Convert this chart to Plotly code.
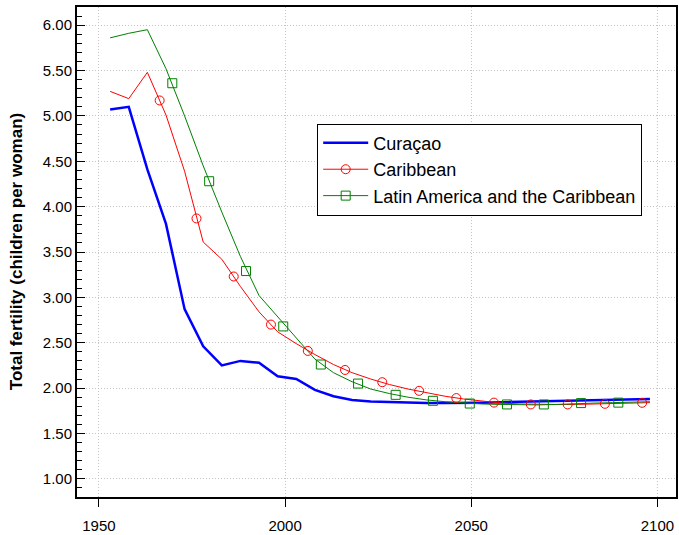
import plotly.graph_objects as go

years = [1953, 1958, 1963, 1968, 1973, 1978, 1983, 1988, 1993, 1998,
         2003, 2008, 2013, 2018, 2023, 2028, 2033, 2038, 2043, 2048,
         2053, 2058, 2063, 2068, 2073, 2078, 2083, 2088, 2093, 2098]

curacao = [5.07, 5.10, 4.41, 3.81, 2.87, 2.46, 2.25, 2.30, 2.28, 2.13,
           2.10, 1.98, 1.91, 1.87, 1.853, 1.845, 1.84, 1.835, 1.835, 1.835,
           1.84, 1.845, 1.85, 1.855, 1.86, 1.865, 1.87, 1.875, 1.878, 1.88]

caribbean = [5.27, 5.19, 5.48, 5.01, 4.39, 3.61, 3.42, 3.12, 2.84, 2.62,
             2.49, 2.37, 2.26, 2.17, 2.10, 2.04, 1.99, 1.95, 1.91, 1.88,
             1.855, 1.835, 1.825, 1.82, 1.82, 1.82, 1.825, 1.83, 1.835, 1.84]

latam = [5.86, 5.91, 5.95, 5.52, 5.00, 4.45, 3.94, 3.45, 3.02, 2.79,
         2.55, 2.32, 2.17, 2.07, 1.99, 1.94, 1.90, 1.87, 1.85, 1.835,
         1.825, 1.82, 1.815, 1.815, 1.82, 1.83, 1.835, 1.84, 1.845, 1.85]

car_marker_years = [1966.3, 1976.2, 1986.2, 1996.2, 2006.1, 2016.1, 2026.1,
                    2036.0, 2046.0, 2056.1, 2066.0, 2075.9, 2085.9, 2095.9]
car_marker_vals = [5.17, 3.87, 3.23, 2.70, 2.41, 2.20, 2.065,
                   1.97, 1.89, 1.84, 1.82, 1.82, 1.827, 1.838]

lac_marker_years = [1969.7, 1979.6, 1989.5, 1999.5, 2009.6, 2019.6, 2029.7,
                    2039.7, 2049.6, 2059.6, 2069.5, 2079.5, 2089.5]
lac_marker_vals = [5.36, 4.28, 3.29, 2.68, 2.26, 2.05, 1.926,
                   1.86, 1.83, 1.82, 1.82, 1.835, 1.84]

names = ["Curaçao", "Caribbean", "Latin America and the Caribbean"]
x_ticks = [1950, 2000, 2050, 2100]

BLUE = "#0000ff"
RED = "#ff0000"
GREEN = "#008000"
GRID = "#c4c4c4"
FONT = "Liberation Sans, Arial, sans-serif"

fig = go.Figure()

# lines
fig.add_trace(go.Scatter(x=years, y=curacao, mode="lines",
                         line=dict(color=BLUE, width=2.5), showlegend=False))
fig.add_trace(go.Scatter(x=years, y=caribbean, mode="lines",
                         line=dict(color=RED, width=1), showlegend=False))
fig.add_trace(go.Scatter(x=years, y=latam, mode="lines",
                         line=dict(color=GREEN, width=1), showlegend=False))
# markers
fig.add_trace(go.Scatter(x=car_marker_years, y=car_marker_vals, mode="markers",
                         marker=dict(symbol="circle-open", size=9, color=RED,
                                     line=dict(width=1, color=RED)),
                         showlegend=False))
fig.add_trace(go.Scatter(x=lac_marker_years, y=lac_marker_vals, mode="markers",
                         marker=dict(symbol="square-open", size=9, color=GREEN,
                                     line=dict(width=1, color=GREEN)),
                         showlegend=False))
# legend entries
fig.add_trace(go.Scatter(x=[None], y=[None], mode="lines", name=names[0],
                         line=dict(color=BLUE, width=2.5)))
fig.add_trace(go.Scatter(x=[None], y=[None], mode="lines+markers", name=names[1],
                         line=dict(color=RED, width=1),
                         marker=dict(symbol="circle-open", size=9, color=RED)))
fig.add_trace(go.Scatter(x=[None], y=[None], mode="lines+markers", name=names[2],
                         line=dict(color=GREEN, width=1),
                         marker=dict(symbol="square-open", size=9, color=GREEN)))

fig.update_layout(
    width=679, height=535,
    margin=dict(l=77, r=1, t=7, b=36),
    paper_bgcolor="white", plot_bgcolor="white",
    font=dict(family=FONT, color="black", size=15),
    showlegend=True,
    legend=dict(x=0.401, y=0.762, xanchor="left", yanchor="top",
                bgcolor="white", bordercolor="black", borderwidth=1,
                itemwidth=45,
                font=dict(size=18, family=FONT)),
    xaxis=dict(range=[1944.1, 2105], tickvals=x_ticks, ticktext=[str(v) for v in x_ticks],
               ticks="outside", ticklen=8, tickcolor="black", tickwidth=1,
               showline=True, linecolor="black", linewidth=2, mirror=True,
               showgrid=True, gridcolor=GRID, griddash="1px,2px", gridwidth=1,
               zeroline=False, tickfont=dict(size=15), ticklabelstandoff=6),
    yaxis=dict(range=[0.8, 6.2], tick0=1.0, dtick=0.5, tickformat=".2f",
               ticks="inside", ticklen=8, tickcolor="black", tickwidth=1,
               minor=dict(dtick=0.1, tick0=1.0, ticks="inside", ticklen=5,
                          tickcolor="black", showgrid=False),
               showline=True, linecolor="black", linewidth=2, mirror=True,
               showgrid=True, gridcolor=GRID, griddash="1px,2px", gridwidth=1,
               zeroline=False, tickfont=dict(size=15)),
    annotations=[
        dict(text="<b>Total fertility (children per woman)</b>", textangle=-90,
             xref="paper", yref="paper", x=-(77 - 16) / 601, y=0.5,
             xanchor="center", yanchor="middle", showarrow=False,
             font=dict(size=17, family=FONT)),
        dict(text="<b>Total fertility</b>", xref="paper", yref="paper",
             x=0.5, y=1, xanchor="center", yanchor="bottom", yshift=5,
             showarrow=False, font=dict(size=20, family=FONT)),
    ],
)

fig.write_html("out.html", config={"displayModeBar": False},
               post_script="document.body.style.margin='0';")
